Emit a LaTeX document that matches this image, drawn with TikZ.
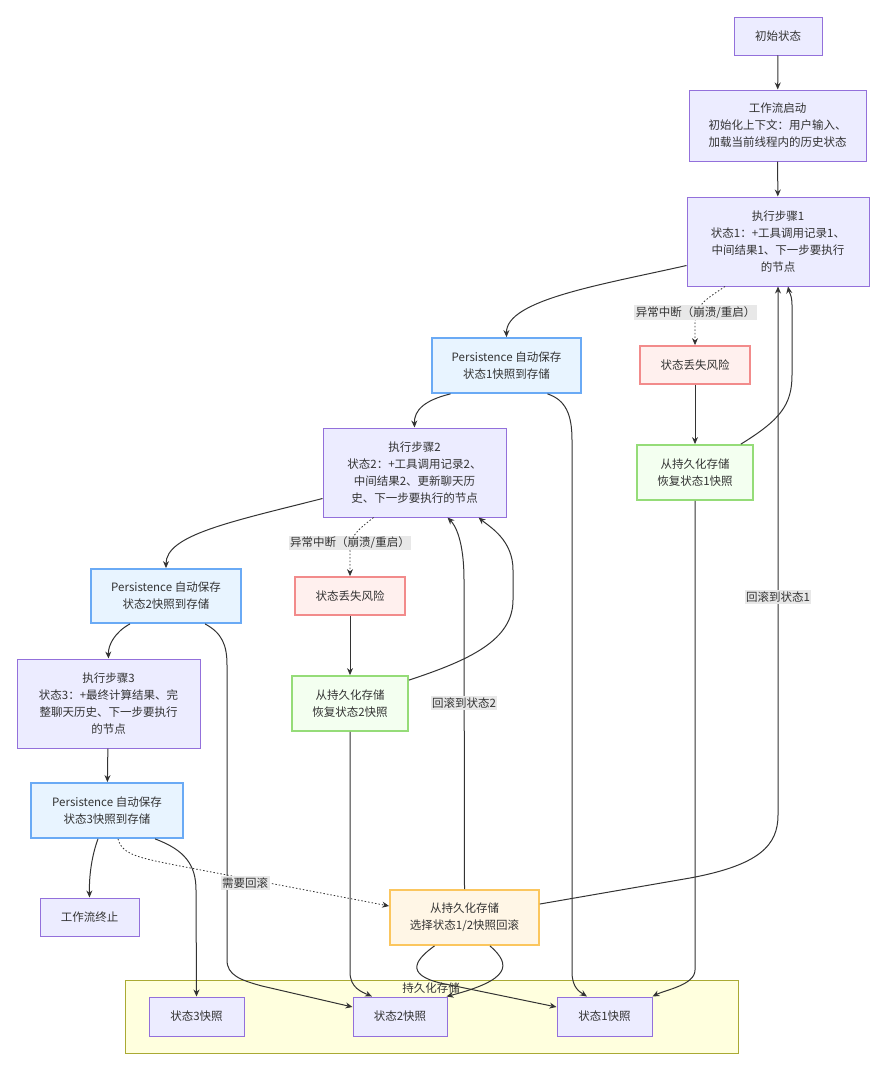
\documentclass[tikz,border=0pt]{standalone}
\usepackage{fontspec}
\setmainfont{Noto Sans CJK SC}
\usetikzlibrary{arrows.meta,calc}
\definecolor{txt}{HTML}{333333}
\definecolor{pfill}{HTML}{ECECFF}
\definecolor{pdraw}{HTML}{9370DB}
\definecolor{bfill}{HTML}{E8F4FF}
\definecolor{bdraw}{HTML}{6AAAF5}
\definecolor{rfill}{HTML}{FFF0EE}
\definecolor{rdraw}{HTML}{F28B8B}
\definecolor{gfill}{HTML}{F3FFF0}
\definecolor{gdraw}{HTML}{95DC78}
\definecolor{ofill}{HTML}{FFF6E6}
\definecolor{odraw}{HTML}{FBC65E}
\definecolor{cfill}{HTML}{FFFFDE}
\definecolor{cdraw}{HTML}{AAAA33}
\definecolor{lblfill}{HTML}{E8E8E8}
\begin{document}
\begin{tikzpicture}[x=1pt,y=-1pt,
  font=\fontsize{11.5}{17}\selectfont, text=txt,
  box/.style={draw=pdraw,fill=pfill,line width=1pt,align=center,inner sep=0pt},
  bluebox/.style={box,draw=bdraw,fill=bfill,line width=1.8pt},
  redbox/.style={box,draw=rdraw,fill=rfill,line width=1.8pt},
  greenbox/.style={box,draw=gdraw,fill=gfill,line width=1.8pt},
  orangebox/.style={box,draw=odraw,fill=ofill,line width=1.8pt},
  edge/.style={draw=txt,line width=1pt,-{Stealth[length=7pt,width=6pt]}},
  dotedge/.style={edge,line width=0.8pt,dash pattern=on 1.5pt off 2pt},
  lbl/.style={fill=lblfill,inner sep=1.5pt,align=center}]
\useasboundingbox (0,0) rectangle (890,1076);
% cluster
\draw[draw=cdraw,fill=cfill,line width=1pt] (125,980) rectangle (738,1053);
\node (clbl) at (431,988) {持久化存储};
% nodes
\node[box,minimum width=88pt,minimum height=38pt] (init) at (778,36) {初始状态};
\node[box,minimum width=177pt,minimum height=71pt] (start) at (777.5,125.5) {工作流启动\\初始化上下文：用户输入、\\加载当前线程内的历史状态};
\node[box,minimum width=182pt,minimum height=89pt] (s1) at (778,241.5) {执行步骤1\\状态1：+工具调用记录1、\\中间结果1、下一步要执行\\的节点};
\node[bluebox,minimum width=149pt,minimum height=55pt] (p1) at (506.5,365.5) {Persistence 自动保存\\状态1快照到存储};
\node[redbox,minimum width=110pt,minimum height=38pt] (r1) at (695,365) {状态丢失风险};
\node[greenbox,minimum width=116pt,minimum height=55pt] (rec1) at (695,472.5) {从持久化存储\\恢复状态1快照};
\node[box,minimum width=183pt,minimum height=89pt] (s2) at (414.5,472.5) {执行步骤2\\状态2：+工具调用记录2、\\中间结果2、更新聊天历\\史、下一步要执行的节点};
\node[bluebox,minimum width=150pt,minimum height=54pt] (p2) at (166,596) {Persistence 自动保存\\状态2快照到存储};
\node[redbox,minimum width=110pt,minimum height=38pt] (r2) at (350,596) {状态丢失风险};
\node[greenbox,minimum width=116pt,minimum height=55pt] (rec2) at (350,703.5) {从持久化存储\\恢复状态2快照};
\node[box,minimum width=183pt,minimum height=89pt] (s3) at (108.5,703.5) {执行步骤3\\状态3：+最终计算结果、完\\整聊天历史、下一步要执行\\的节点};
\node[bluebox,minimum width=152pt,minimum height=55pt] (p3) at (107,810.5) {Persistence 自动保存\\状态3快照到存储};
\node[box,minimum width=99pt,minimum height=38pt] (end) at (89.5,917) {工作流终止};
\node[orangebox,minimum width=149pt,minimum height=55pt] (rb) at (464.5,917.5) {从持久化存储\\选择状态1/2快照回滚};
\node[box,minimum width=95pt,minimum height=39pt] (snap3) at (196.5,1016.5) {状态3快照};
\node[box,minimum width=94pt,minimum height=39pt] (snap2) at (400,1016.5) {状态2快照};
\node[box,minimum width=95pt,minimum height=39pt] (snap1) at (604.5,1016.5) {状态1快照};
% edges
\draw[edge] (init) -- (start);
\draw[edge] (start) -- (s1);
\draw[edge] ($(s1.west)+(0,24)$) .. controls (600,285) and (506,300) .. (p1.north);
\draw[dotedge] ($(s1.south)+(-53,0)$) .. controls (705,300) and (695,305) .. (695,325) -- (r1.north);
\draw[edge] (r1) -- (rec1);
\draw[edge] ($(rec1.north east)+(-13,0)$) .. controls (780,420) and (792,405) .. (792,375) -- (792,305) .. controls (792,295) and (789,292) .. ($(s1.south)+(10,0)$);
\draw[edge] ($(p1.south)+(-56,0)$) .. controls (425,400) and (414,410) .. (s2.north);
\draw[edge] ($(p1.south)+(41,0)$) .. controls (566,400) and (572,415) .. (572,440) -- (572,972) .. controls (572,988) and (580,992) .. ($(snap1.north)+(-17.5,0)$);
\draw[edge] ($(s2.west)+(0,26)$) .. controls (230,522) and (166,535) .. (p2.north);
\draw[dotedge] ($(s2.south)+(-41,0)$) .. controls (358,530) and (350,535) .. (350,552) -- (r2.north);
\draw[edge] (r2) -- (rec2);
\draw[edge] ($(rec2.north east)+(0,5)$) .. controls (470,660) and (513,640) .. (513,600) -- (513,570) .. controls (513,540) and (490,527) .. ($(s2.south)+(64,0)$);
\draw[edge] (rec2.south) -- (350,972) .. controls (350,988) and (362,992) .. ($(snap2.north)+(-28,0)$);
\draw[edge] ($(p2.south)+(-36,0)$) .. controls (115,632) and (108,645) .. (s3.north);
\draw[edge] ($(p2.south)+(39,0)$) .. controls (222,633) and (227,645) .. (227,665) -- (227,960) .. controls (227,975) and (240,980) .. (262,986) -- ($(snap2.west)+(0,-9.5)$);
\draw[edge] (s3) -- (p3);
\draw[edge] ($(p3.south)+(-9,0)$) .. controls (92,855) and (89,875) .. (end.north);
\draw[edge] ($(p3.south)+(48,0)$) .. controls (185,850) and (196,865) .. (196,890) -- (snap3.north);
\draw[dotedge] ($(p3.south)+(11,0)$) .. controls (122,855) and (140,858) .. (180,866) -- ($(rb.west)+(0,-11.5)$);
\draw[edge] (rb.north) -- (464,580) .. controls (464,540) and (455,525) .. ($(s2.south)+(33,0)$);
\draw[edge] ($(rb.east)+(0,-13.5)$) -- (690,878) .. controls (760,865) and (778,845) .. (778,815) -- (s1.south);
\draw[edge] ($(rb.south)+(25.5,0)$) .. controls (512,965) and (510,980) .. ($(snap2.north east)+(-1,0)$);
\draw[edge] ($(rb.south)+(-30,0)$) .. controls (412,962) and (405,977) .. (450,985) -- ($(snap1.west)+(0,-9.5)$);
\draw[edge] (rec1.south) -- (695,970) .. controls (695,985) and (665,990) .. (snap1.north east);
% edge labels
\node[lbl] (l1) at (695.5,312.5) {异常中断（崩溃/重启）};
\node[lbl] (l2) at (350,543) {异常中断（崩溃/重启）};
\node[lbl] (l3) at (778,597) {回滚到状态1};
\node[lbl] (l4) at (464,703) {回滚到状态2};
\node[lbl] (l5) at (245,883) {需要回滚};
\end{tikzpicture}
\end{document}
